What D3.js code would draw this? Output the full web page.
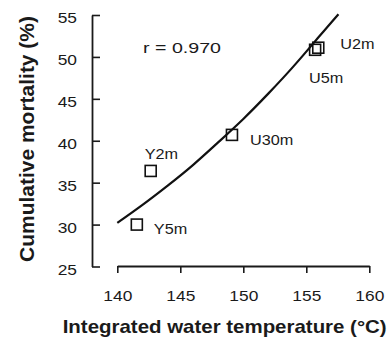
<!DOCTYPE html>
<html>
<head>
<meta charset="utf-8">
<script src="https://cdn.jsdelivr.net/npm/d3@7"></script>
<style>
  body { margin: 0; background: #fff; }
  svg text { font-family: "Liberation Sans", Arial, Helvetica, sans-serif; fill: #1a1a1a; }
</style>
</head>
<body>
<div id="chart"></div>
<script>
// data
var sites = ["U2m", "U5m", "U30m", "Y2m", "Y5m"];
var temp = [155.95, 155.7, 149.1, 142.65, 141.55];
var mortality = [51.1, 50.85, 40.7, 36.4, 30.0];

// fitted curve as drawn in the figure
var curveTemp = [140, 142, 144, 146, 148, 150, 152, 154, 156, 157.55];
var curveMort = [30.2, 32.35, 34.65, 37.1, 39.8, 42.6, 45.65, 48.9, 52.4, 55.1];

var xTicks = [140, 145, 150, 155, 160];
var yTicks = [25, 30, 35, 40, 45, 50, 55];
var rText = "r = 0.970";

// label offsets from each square (px): [dx, dy]
var labelOffset = [[22, 1], [-6, 33], [18, 10], [-6, -12], [17, 9]];

var W = 387, H = 338;
var svg = d3.select("#chart").append("svg")
  .attr("width", W).attr("height", H);

var x = d3.scaleLinear().domain([140, 160]).range([117.3, 369.3]);
var y = d3.scaleLinear().domain([25, 55]).range([266.5, 15]);

// stretch text horizontally, the scan's type is wide
function stretch(sel, f) {
  sel.each(function() {
    var w = this.getComputedTextLength();
    d3.select(this).attr("textLength", w * f).attr("lengthAdjust", "spacingAndGlyphs");
  });
}

// y axis
var gy = svg.append("g")
  .attr("transform", "translate(92,0)")
  .call(d3.axisLeft(y).tickValues(yTicks).tickSizeInner(-8).tickSizeOuter(0).tickPadding(15));
// x axis
var gx = svg.append("g")
  .attr("transform", "translate(0,266)")
  .call(d3.axisBottom(x).tickValues(xTicks).tickSizeInner(7).tickSizeOuter(0).tickPadding(17));

[gx, gy].forEach(function(g) {
  g.select(".domain").attr("stroke", "#1a1a1a").attr("stroke-width", 1.8);
  g.selectAll(".tick line").attr("stroke", "#1a1a1a").attr("stroke-width", 1.6);
  g.selectAll(".tick text")
    .attr("font-size", 15.5)
    .attr("font-family", "Liberation Sans, Arial, sans-serif")
    .attr("fill", "#1a1a1a");
  stretch(g.selectAll(".tick text"), 1.12);
});
gy.selectAll(".tick text").attr("dy", "0.5em");

// curve
var pts = curveTemp.map(function(t, i) { return [t, curveMort[i]]; });
svg.append("path")
  .datum(pts)
  .attr("fill", "none")
  .attr("stroke", "#111")
  .attr("stroke-width", 2.2)
  .attr("d", d3.line()
    .x(function(d) { return x(d[0]); })
    .y(function(d) { return y(d[1]); })
    .curve(d3.curveNatural));

// squares
var s = 11;
svg.selectAll("rect.pt")
  .data(sites)
  .enter().append("rect")
  .attr("class", "pt")
  .attr("x", function(d, i) { return x(temp[i]) - s / 2; })
  .attr("y", function(d, i) { return y(mortality[i]) - s / 2; })
  .attr("width", s).attr("height", s)
  .attr("fill", "none")
  .attr("stroke", "#111")
  .attr("stroke-width", 1.6);

var labels = svg.selectAll("text.lab")
  .data(sites)
  .enter().append("text")
  .attr("class", "lab")
  .attr("x", function(d, i) { return x(temp[i]) + labelOffset[i][0]; })
  .attr("y", function(d, i) { return y(mortality[i]) + labelOffset[i][1]; })
  .attr("font-size", 14.5)
  .text(function(d) { return d; });
stretch(labels, 1.12);

// r value
svg.append("text")
  .attr("x", 143).attr("y", 52.7)
  .attr("font-size", 15.5)
  .attr("textLength", 78)
  .attr("lengthAdjust", "spacingAndGlyphs")
  .text(rText);

// axis titles
svg.append("text")
  .attr("x", 62.7).attr("y", 333.3)
  .attr("font-size", 17.7)
  .attr("font-weight", "bold")
  .attr("textLength", 324)
  .attr("lengthAdjust", "spacingAndGlyphs")
  .text("Integrated water temperature (°C)");

svg.append("text")
  .attr("transform", "translate(34,262) rotate(-90)")
  .attr("font-size", 20)
  .attr("font-weight", "bold")
  .attr("textLength", 246)
  .attr("lengthAdjust", "spacingAndGlyphs")
  .text("Cumulative mortality (%)");
</script>
</body>
</html>
